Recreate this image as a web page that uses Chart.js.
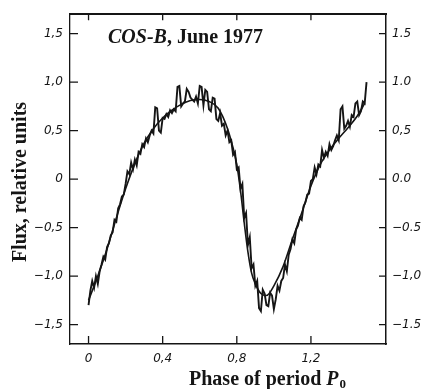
<!DOCTYPE html>
<html><head><meta charset="utf-8">
<script src="https://cdn.jsdelivr.net/npm/chart.js@4"></script>
<style>html,body{margin:0;padding:0;background:#fff}#wrap{width:426px;height:389px}</style>
</head><body><div id="wrap"><canvas id="c" width="426" height="389"></canvas></div>
<script>
// ---- data ----
const smoothPhase = [0,0.05,0.1,0.15,0.2,0.25,0.3,0.35,0.4,0.45,0.5,0.55,0.6,0.65,0.7,0.75,0.78,0.8,0.82,0.84,0.86,0.88,0.9,0.93,0.96,1.0,1.05,1.1,1.15,1.2,1.25,1.3,1.35,1.4,1.45,1.49];
const smoothFlux  = [-1.25,-1.0,-0.72,-0.4,-0.1,0.16,0.37,0.52,0.63,0.71,0.77,0.81,0.82,0.8,0.73,0.52,0.32,0.15,-0.12,-0.45,-0.75,-0.97,-1.08,-1.18,-1.2,-1.1,-0.9,-0.62,-0.35,-0.07,0.15,0.3,0.42,0.53,0.65,0.78];

const noisyPhase = [0,0.01,0.02,0.03,0.04,0.05,0.06,0.07,0.08,0.09,0.1,0.11,0.12,0.13,0.14,0.15,0.16,0.17,0.18,0.19,0.2,0.21,0.22,0.23,0.24,0.25,0.26,0.27,0.28,0.29,0.3,0.31,0.32,0.33,0.34,0.35,0.36,0.37,0.38,0.39,0.4,0.41,0.42,0.43,0.44,0.45,0.46,0.47,0.48,0.49,0.5,0.51,0.52,0.53,0.54,0.55,0.56,0.57,0.58,0.59,0.6,0.61,0.62,0.63,0.64,0.65,0.66,0.67,0.68,0.69,0.7,0.71,0.72,0.73,0.74,0.75,0.76,0.77,0.78,0.79,0.8,0.81,0.82,0.83,0.84,0.85,0.86,0.87,0.88,0.89,0.9,0.91,0.92,0.93,0.94,0.95,0.96,0.97,0.98,0.99,1.0,1.01,1.02,1.03,1.04,1.05,1.06,1.07,1.08,1.09,1.1,1.11,1.12,1.13,1.14,1.15,1.16,1.17,1.18,1.19,1.2,1.21,1.22,1.23,1.24,1.25,1.26,1.27,1.28,1.29,1.3,1.31,1.32,1.33,1.34,1.35,1.36,1.37,1.38,1.39,1.4,1.41,1.42,1.43,1.44,1.45,1.46,1.47,1.48,1.49,1.5];
const noisyFlux = [-1.30,-1.15,-1.05,-1.12,-1.00,-1.08,-0.95,-0.88,-0.80,-0.83,-0.70,-0.66,-0.58,-0.55,-0.42,-0.44,-0.30,-0.26,-0.18,-0.16,-0.05,0.08,0.05,0.17,0.10,0.20,0.14,0.28,0.26,0.36,0.33,0.42,0.38,0.45,0.50,0.47,0.74,0.73,0.50,0.48,0.63,0.62,0.67,0.64,0.71,0.68,0.72,0.70,0.95,0.96,0.75,0.78,0.80,0.93,0.90,0.84,0.82,0.80,0.85,0.78,0.96,0.95,0.76,0.92,0.90,0.72,0.70,0.84,0.83,0.62,0.60,0.68,0.55,0.57,0.45,0.50,0.38,0.40,0.25,0.28,0.10,0.12,-0.10,-0.05,-0.40,-0.35,-0.68,-0.60,-0.92,-0.88,-1.10,-1.05,-1.33,-1.36,-1.14,-1.18,-1.30,-1.31,-1.17,-1.20,-1.34,-1.24,-1.10,-1.15,-1.05,-1.02,-0.88,-0.95,-0.78,-0.72,-0.62,-0.66,-0.52,-0.48,-0.40,-0.42,-0.28,-0.24,-0.16,-0.15,-0.02,0.00,0.12,0.05,0.15,0.13,0.30,0.22,0.28,0.24,0.36,0.30,0.34,0.40,0.45,0.40,0.72,0.75,0.52,0.55,0.60,0.54,0.66,0.64,0.78,0.80,0.66,0.70,0.80,0.78,1.00];

const xTickValues = [0, 0.4, 0.8, 1.2];
const xTickLabels = ['0', '0,4', '0,8', '1,2'];
const yTickValues = [1.5, 1, 0.5, 0, -0.5, -1, -1.5];
const yLeftLabels  = ['1,5', '1,0', '0,5', '0', '\u22120,5', '\u22121,0', '\u22121,5'];
const yRightLabels = ['1.5', '1.0', '0,5', '0.0', '\u22120.5', '\u22121,0', '\u22121.5'];

const titleMain = ['COS-B', ', June 1977'];
const xTitle = ['Phase of period ', 'P', '0'];
const yTitle = 'Flux, relative units';

// ---- chart ----
const INK = '#151515';
const tickFont = {family: 'DejaVu Sans', style: 'italic', size: 12};
const SERIF = '"Liberation Serif"';

function setTicks(vals){ return function(scale){ scale.ticks = vals.map(v => ({value: v})); }; }

const deco = {
  id: 'deco',
  afterDraw(chart){
    const ctx = chart.ctx, a = chart.chartArea;
    const sx = chart.scales.x, sy = chart.scales.y;
    ctx.save();
    ctx.strokeStyle = INK; ctx.lineWidth = 1.3;
    ctx.beginPath();
    xTickValues.forEach(v => {
      const p = sx.getPixelForValue(v);
      ctx.moveTo(p, a.bottom); ctx.lineTo(p, a.bottom - 8);
      ctx.moveTo(p, a.top); ctx.lineTo(p, a.top + 6);
    });
    yTickValues.forEach(v => {
      const p = sy.getPixelForValue(v);
      ctx.moveTo(a.left, p); ctx.lineTo(a.left + 8, p);
      ctx.moveTo(a.right, p); ctx.lineTo(a.right - 7, p);
    });
    ctx.stroke();
    // main title
    ctx.fillStyle = INK;
    ctx.textBaseline = 'alphabetic';
    let x = 108;
    ctx.font = 'italic bold 20px ' + SERIF;
    ctx.fillText(titleMain[0], x, 43);
    x += ctx.measureText(titleMain[0]).width;
    ctx.font = 'bold 20px ' + SERIF;
    ctx.fillText(titleMain[1], x, 43);
    // x title
    ctx.font = 'bold 20px ' + SERIF;
    const w1 = ctx.measureText(xTitle[0]).width;
    ctx.font = 'italic bold 20px ' + SERIF;
    const w2 = ctx.measureText(xTitle[1]).width;
    ctx.font = 'bold 13px ' + SERIF;
    const w3 = ctx.measureText(xTitle[2]).width;
    let xs = 267 - (w1 + w2 + w3) / 2;
    ctx.font = 'bold 20px ' + SERIF;
    ctx.fillText(xTitle[0], xs, 385); xs += w1;
    ctx.font = 'italic bold 20px ' + SERIF;
    ctx.fillText(xTitle[1], xs, 385); xs += w2 + 1;
    ctx.font = 'bold 13px ' + SERIF;
    ctx.fillText(xTitle[2], xs, 388);
    // y title
    ctx.translate(26, 182);
    ctx.rotate(-Math.PI / 2);
    ctx.font = 'bold 20px ' + SERIF;
    ctx.textAlign = 'center';
    ctx.fillText(yTitle, 0, 0);
    ctx.restore();
  }
};

new Chart(document.getElementById('c'), {
  type: 'line',
  data: {
    datasets: [
      {
        label: 'smooth',
        data: smoothPhase.map((p, i) => ({x: p, y: smoothFlux[i]})),
        borderColor: INK, borderWidth: 1.6, pointRadius: 0,
        cubicInterpolationMode: 'monotone', fill: false
      },
      {
        label: 'observed',
        data: noisyPhase.map((p, i) => ({x: p, y: noisyFlux[i]})),
        borderColor: INK, borderWidth: 1.9, pointRadius: 0,
        tension: 0, fill: false
      }
    ]
  },
  options: {
    responsive: false,
    animation: false,
    devicePixelRatio: 1,
    layout: {padding: 0},
    plugins: {legend: {display: false}, tooltip: {enabled: false}},
    scales: {
      x: {
        type: 'linear', position: 'bottom', min: -0.1, max: 1.605,
        afterBuildTicks: setTicks(xTickValues),
        afterFit(s){ s.height = 45; },
        grid: {display: true, drawOnChartArea: false, drawTicks: false},
        border: {display: true, color: INK, width: 1.5},
        ticks: {color: INK, font: tickFont, padding: 8, maxRotation: 0,
          callback: (v) => xTickLabels[xTickValues.indexOf(v)] ?? ''}
      },
      x2: {
        type: 'linear', position: 'top', min: -0.1, max: 1.605,
        afterBuildTicks: setTicks(xTickValues),
        afterFit(s){ s.height = 13; },
        grid: {display: true, drawOnChartArea: false, drawTicks: false},
        border: {display: true, color: INK, width: 2},
        ticks: {display: false}
      },
      y: {
        type: 'linear', position: 'left', min: -1.7, max: 1.7,
        afterBuildTicks: setTicks(yTickValues),
        afterFit(s){ s.width = 70; },
        grid: {display: true, drawOnChartArea: false, drawTicks: false},
        border: {display: true, color: INK, width: 1.3},
        ticks: {color: INK, font: tickFont, padding: 7,
          callback: (v) => yLeftLabels[yTickValues.indexOf(v)] ?? ''}
      },
      y2: {
        type: 'linear', position: 'right', min: -1.7, max: 1.7,
        afterBuildTicks: setTicks(yTickValues),
        afterFit(s){ s.width = 40; },
        grid: {display: true, drawOnChartArea: false, drawTicks: false},
        border: {display: true, color: INK, width: 1.5},
        ticks: {color: INK, font: tickFont, padding: 6,
          callback: (v) => yRightLabels[yTickValues.indexOf(v)] ?? ''}
      }
    }
  },
  plugins: [deco]
});
</script>
</body></html>
